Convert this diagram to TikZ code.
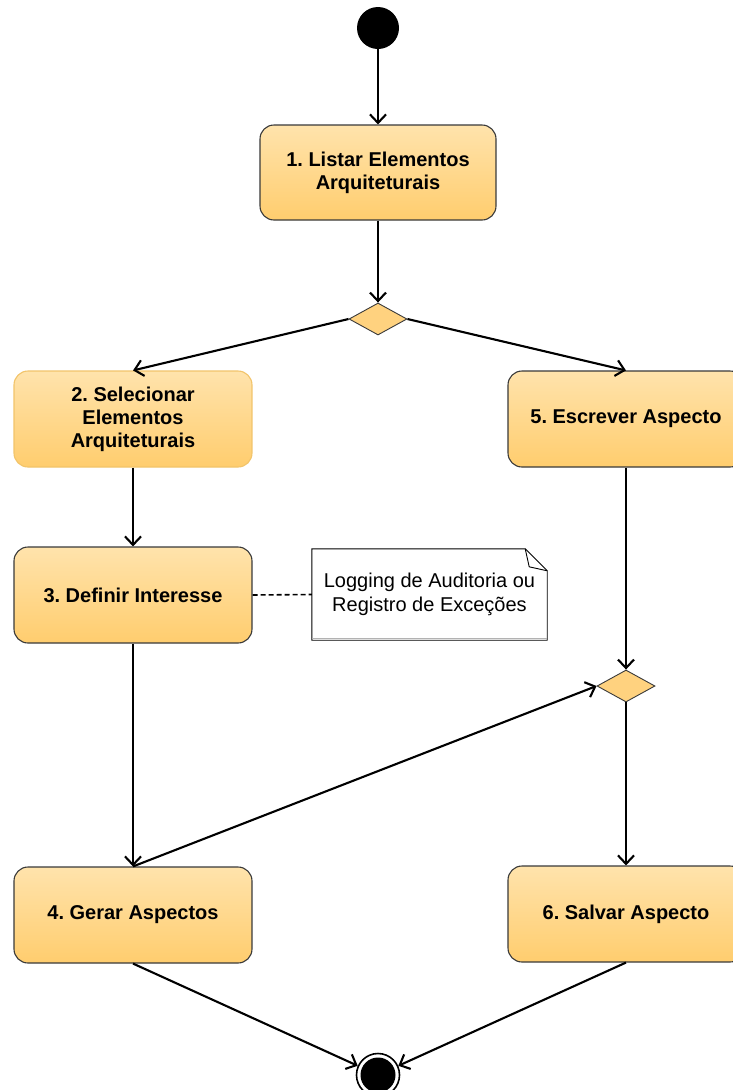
\documentclass[tikz,border=0pt]{standalone}
\usepackage{fontspec}
\setmainfont{Liberation Sans}
\frenchspacing
\usetikzlibrary{shapes.geometric,arrows.meta}
\definecolor{fillTop}{HTML}{FFE3AC}
\definecolor{fillBot}{HTML}{FFCD6E}
\definecolor{diaFill}{HTML}{FFD27F}
\definecolor{edgeGray}{HTML}{3A3A3A}
\definecolor{softEdge}{HTML}{F2C46A}
\tikzset{
  actbox/.style={rectangle, rounded corners=14pt, draw=edgeGray, line width=1.1pt,
    top color=fillTop, bottom color=fillBot, align=center,
    font=\fontsize{20}{23}\selectfont\bfseries, inner sep=2pt},
  decision/.style={diamond, aspect=1.8, minimum width=58pt, minimum height=32pt,
    inner sep=0pt, fill=diaFill, draw=edgeGray, line width=0.9pt},
  flow/.style={line width=2.1pt, -{Straight Barb[length=8.5pt,width=16pt,line width=2.1pt]}},
  notelink/.style={line width=1.6pt, dash pattern=on 5pt off 3pt},
}
\begin{document}
\begin{tikzpicture}[x=1pt,y=-1pt]
\useasboundingbox (0,0) rectangle (733,1090);
\fill[white] (0,0) rectangle (733,1090);

% start and end
\node[circle, fill=black, minimum size=42pt, inner sep=0pt] (start) at (378,28) {};
\node[circle, draw=black, line width=1.6pt, minimum size=43pt, inner sep=0pt] (stop) at (378,1075) {};
\fill[black] (stop.center) circle (17.5pt);

% activities
\node[actbox, minimum width=236pt, minimum height=95pt] (b1) at (378,172.5) {1. Listar Elementos\\Arquiteturais};
\node[actbox, draw=softEdge, minimum width=238pt, minimum height=96pt] (b2) at (133,419) {2. Selecionar\\Elementos\\Arquiteturais};
\node[actbox, minimum width=236pt, minimum height=96pt] (b5) at (626,419) {5. Escrever Aspecto};
\node[actbox, minimum width=238pt, minimum height=96pt] (b3) at (133,595) {3. Definir Interesse};
\node[actbox, minimum width=238pt, minimum height=96pt] (b4) at (133,915) {4. Gerar Aspectos};
\node[actbox, minimum width=236pt, minimum height=96pt] (b6) at (626,914) {6. Salvar Aspecto};

% decisions
\node[decision] (d1) at (378,319) {};
\node[decision] (d2) at (626,686) {};

% comment note with folded corner
\node[rectangle, minimum width=235pt, minimum height=91pt, inner sep=0pt, align=center,
  font=\fontsize{20}{24}\selectfont] (note) at (429.5,594.5) {Logging de Auditoria ou\\Registro de Exceções};
\draw[black, line width=0.9pt]
  (note.north west) -- ([xshift=-22pt]note.north east) -- ([yshift=-22pt]note.north east)
  -- (note.south east) -- (note.south west) -- cycle;
\draw[black, line width=0.9pt]
  ([xshift=-22pt]note.north east) -- ([xshift=-18pt,yshift=-18pt]note.north east) -- ([yshift=-22pt]note.north east);
\draw[gray!60, line width=0.6pt] ([yshift=2pt]note.south west) -- ([yshift=2pt]note.south east);

% control flow
\draw[flow] (start) -- (b1);
\draw[flow] (b1) -- (d1);
\draw[flow] (d1.west) -- (b2.north);
\draw[flow] (d1.east) -- (b5.north);
\draw[flow] (b2) -- (b3);
\draw[flow] (b5.south) -- (d2.north);
\draw[flow] (b3) -- (b4);
\draw[flow] (b4.north) -- (d2.west);
\draw[flow] (d2.south) -- (b6.north);
\draw[flow] (b4.south) -- (stop);
\draw[flow] (b6.south) -- (stop);
\draw[notelink] (b3.east) -- (note.west);
\end{tikzpicture}
\end{document}
